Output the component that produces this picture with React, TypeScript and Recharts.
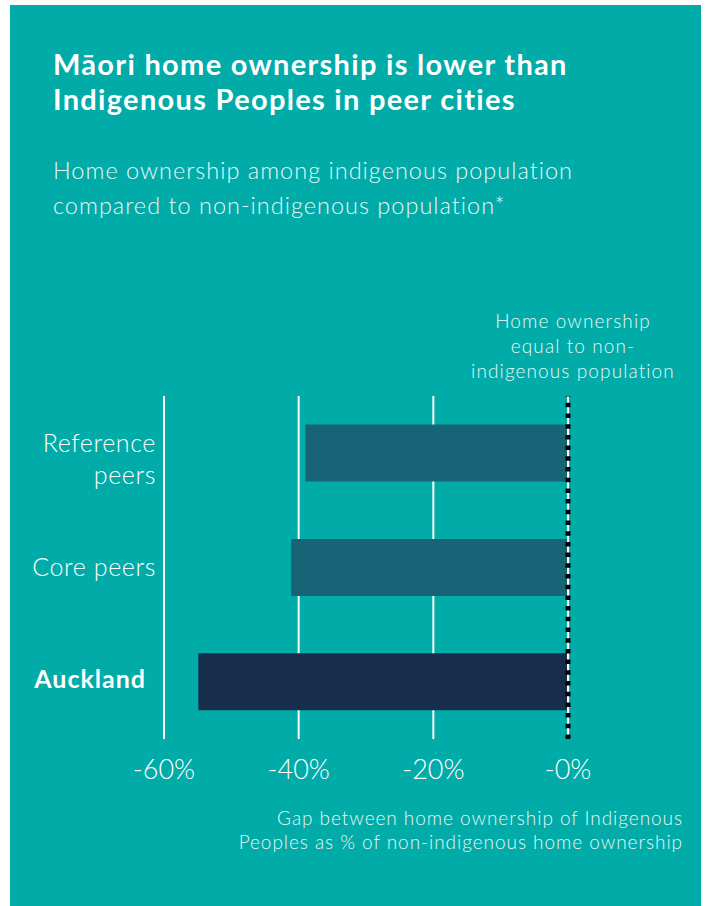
import React from "react";
import {
  BarChart,
  Bar,
  Cell,
  XAxis,
  YAxis,
  CartesianGrid,
  ReferenceLine,
} from "recharts";

// chart values
const categories = ["Reference peers", "Core peers", "Auckland"];
const gapValues = [-39, -41.1, -54.9];
const xTicks = [-60, -40, -20, 0];

const titleLines = [
  "Māori home ownership is lower than",
  "Indigenous Peoples in peer cities",
];
const subtitleLines = [
  "Home ownership among indigenous population",
  "compared to non-indigenous population*",
];
const noteLines = ["Home ownership", "equal to non-", "indigenous population"];
const axisTitleLines = [
  "Gap between home ownership of Indigenous",
  "Peoples as % of non-indigenous home ownership",
];

const TEAL = "#00aba8";
const PEER_COLOR = "#166476";
const AUCKLAND_COLOR = "#172d4c";
const FONT = "Lato, 'Open Sans', sans-serif";

const data = categories.map((name, i) => ({ name, gap: gapValues[i] }));

const CategoryTick = (props: any) => {
  const { x, y, payload } = props;
  const label: string = payload.value;
  const bold = label === "Auckland";
  const lines = label === "Reference peers" ? ["Reference", "peers"] : [label];
  const offsets = lines.length > 1 ? [-1, 31] : [bold ? 6 : 8];
  return (
    <g>
      {lines.map((line, i) => (
        <text
          key={line}
          x={x - (bold ? 16 : 6)}
          y={y + offsets[i]}
          textAnchor="end"
          fill="#ffffff"
          fontFamily={FONT}
          fontSize={25}
          fontWeight={bold ? 700 : 300}
          style={{ letterSpacing: bold ? "1px" : "0.6px" }}
        >
          {line}
        </text>
      ))}
    </g>
  );
};

const PercentTick = (props: any) => {
  const { x, y, payload } = props;
  const v = payload.value as number;
  return (
    <text
      x={x}
      y={y + 32}
      textAnchor="middle"
      fill="#ffffff"
      fontFamily={FONT}
      fontSize={27}
      fontWeight={300}
    >
      {v === 0 ? "-0%" : `${v}%`}
    </text>
  );
};

export default function App() {
  return (
    <div
      style={{
        position: "absolute",
        left: 10,
        top: 5,
        width: 691,
        height: 901,
        background: TEAL,
        fontFamily: FONT,
        color: "#ffffff",
      }}
    >
      <div
        style={{
          position: "absolute",
          left: 43,
          top: 41,
          fontSize: 29,
          lineHeight: "35px",
          fontWeight: 700,
          letterSpacing: "1.3px",
          whiteSpace: "nowrap",
        }}
      >
        {titleLines.map((t) => (
          <div key={t}>{t}</div>
        ))}
      </div>

      <div
        style={{
          position: "absolute",
          left: 43,
          top: 148,
          fontSize: 23.5,
          lineHeight: "35px",
          fontWeight: 300,
          letterSpacing: "1px",
          whiteSpace: "nowrap",
          color: "#e8f7f6",
        }}
      >
        {subtitleLines.map((t) => (
          <div key={t}>{t}</div>
        ))}
      </div>

      <div
        style={{
          position: "absolute",
          left: 453,
          width: 220,
          top: 303,
          fontSize: 19,
          lineHeight: "25px",
          fontWeight: 300,
          letterSpacing: "1.1px",
          textAlign: "center",
          whiteSpace: "nowrap",
          color: "#e8f7f6",
        }}
      >
        {noteLines.map((t) => (
          <div key={t}>{t}</div>
        ))}
      </div>

      <div
        style={{
          position: "absolute",
          right: 18,
          top: 801,
          fontSize: 19,
          lineHeight: "24px",
          fontWeight: 300,
          letterSpacing: "0.95px",
          textAlign: "right",
          whiteSpace: "nowrap",
          color: "#e8f7f6",
        }}
      >
        {axisTitleLines.map((t) => (
          <div key={t}>{t}</div>
        ))}
      </div>

      <div style={{ position: "absolute", left: 0, top: 0 }}>
        <BarChart
          width={691}
          height={901}
          data={data}
          layout="vertical"
          margin={{ top: 391, right: 133, bottom: 127, left: 0 }}
          barCategoryGap="25%"
        >
          <CartesianGrid
            horizontal={false}
            stroke="#ffffff"
            strokeWidth={2}
          />
          <XAxis
            type="number"
            domain={[-60, 0]}
            ticks={xTicks}
            axisLine={false}
            tickLine={false}
            height={40}
            tick={<PercentTick />}
            interval={0}
          />
          <YAxis
            type="category"
            dataKey="name"
            width={154}
            axisLine={false}
            tickLine={false}
            tickSize={0}
            tick={<CategoryTick />}
          />
          <Bar dataKey="gap" isAnimationActive={false}>
            {data.map((d) => (
              <Cell
                key={d.name}
                fill={d.name === "Auckland" ? AUCKLAND_COLOR : PEER_COLOR}
              />
            ))}
          </Bar>
          <ReferenceLine x={0} stroke="#ffffff" strokeWidth={2} />
          <ReferenceLine
            x={0}
            stroke="#000000"
            strokeWidth={5}
            strokeDasharray="4.5 6.2"
          />
        </BarChart>
      </div>
    </div>
  );
}
